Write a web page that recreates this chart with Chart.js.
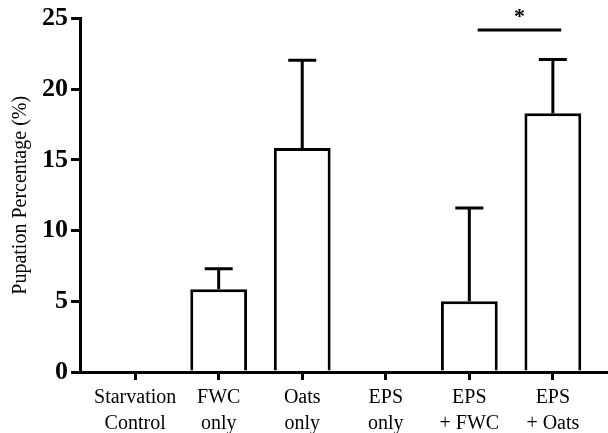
<!DOCTYPE html>
<html>
<head>
<meta charset="utf-8">
<script src="https://cdn.jsdelivr.net/npm/chart.js@4"></script>
<style>
  body { margin: 0; background: #fff; }
  #wrap { width: 608px; height: 433px; }
</style>
</head>
<body>
<div id="wrap"><canvas id="pupChart"></canvas></div>
<script>
// categories (two lines each)
const groups = [
	["Starvation", "Control"],
	["FWC", "only"],
	["Oats", "only"],
	["EPS", "only"],
	["EPS", "+ FWC"],
	["EPS", "+ Oats"],
];
const pupation = [0, 5.85, 15.85, 0, 5.0, 18.3];
const errUp = [0, 1.45, 6.2, 0, 6.6, 3.8];
const yTicks = [0, 5, 10, 15, 20, 25];

// significance: between group 4 and 5
const sigFrom = 4.1;
const sigTo = 5.1;
const sigY = 24.2;
const sigMark = "*";

const serif = "'Liberation Serif', 'Times New Roman', serif";

// error bars + significance line
const extrasPlugin = {
	id: "extras",
	afterDatasetsDraw(chart) {
		const ctx = chart.ctx;
		const xs = chart.scales.x;
		const ys = chart.scales.y;
		ctx.save();
		ctx.strokeStyle = "#000";
		ctx.lineWidth = 3;
		pupation.forEach((v, i) => {
			if (!errUp[i]) return;
			const x = xs.getPixelForValue(i);
			const y0 = ys.getPixelForValue(v);
			const y1 = ys.getPixelForValue(v + errUp[i]);
			ctx.beginPath();
			ctx.moveTo(x, y0);
			ctx.lineTo(x, y1);
			ctx.moveTo(x - 14, y1);
			ctx.lineTo(x + 14, y1);
			ctx.stroke();
		});

		// bracket
		const sy = ys.getPixelForValue(sigY);
		ctx.beginPath();
		ctx.moveTo(xs.getPixelForValue(sigFrom), sy);
		ctx.lineTo(xs.getPixelForValue(sigTo), sy);
		ctx.stroke();
		ctx.fillStyle = "#000";
		ctx.font = "bold 22px " + serif;
		ctx.textAlign = "center";
		ctx.textBaseline = "middle";
		ctx.fillText(sigMark, xs.getPixelForValue((sigFrom + sigTo) / 2), sy - 13);
		ctx.restore();
	},
};

new Chart(document.getElementById("pupChart"), {
	type: "bar",
	data: {
		datasets: [
			{
				data: pupation.map((v, i) => ({ x: i, y: v })),
				backgroundColor: "#fff",
				borderColor: "#000",
				borderWidth: 3,
				categoryPercentage: 1,
				barPercentage: 0.68,
			},
		],
	},
	options: {
		responsive: true,
		maintainAspectRatio: false,
		animation: false,
		layout: { padding: { top: 17, right: 0, bottom: 0, left: 9 } },
		plugins: {
			legend: { display: false },
			tooltip: { enabled: false },
		},
		scales: {
			x: {
				type: "linear",
				offset: false,
				min: -0.66,
				max: 5.66,
				afterBuildTicks: (scale) => {
					scale.ticks = groups.map((g, i) => ({ value: i }));
				},
				afterFit: (scale) => {
					scale.height = 61;
				},
				grid: {
					offset: false,
					drawOnChartArea: false,
					drawTicks: true,
					tickLength: 8,
					color: "#000",
					lineWidth: 3,
				},
				border: { display: true, color: "#000", width: 3 },
				ticks: {
					color: "#000",
					padding: 5,
					maxRotation: 0,
					autoSkip: false,
					font: { family: serif, size: 20, lineHeight: 1.3 },
					callback: (val) => groups[val] || "",
				},
			},
			y: {
				min: 0,
				max: 25,
				afterBuildTicks: (scale) => {
					scale.ticks = yTicks.map((v) => ({ value: v }));
				},
				grid: {
					drawOnChartArea: false,
					drawTicks: true,
					tickLength: 9,
					color: "#000",
					lineWidth: 3,
				},
				border: { display: true, color: "#000", width: 3 },
				ticks: {
					color: "#000",
					padding: 3,
					font: { family: serif, size: 26, weight: "bold" },
				},
				title: {
					display: true,
					text: "Pupation Percentage (%)",
					color: "#000",
					padding: { top: 0, bottom: 6 },
					font: { family: serif, size: 20 },
				},
			},
		},
	},
	plugins: [extrasPlugin],
});
</script>
</body>
</html>
